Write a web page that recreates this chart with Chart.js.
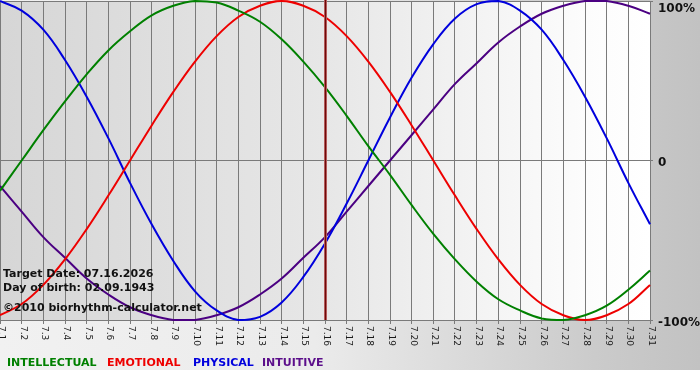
<!DOCTYPE html>
<html>
<head>
<meta charset="utf-8">
<title>Biorhythm</title>
<script src="https://cdn.jsdelivr.net/npm/chart.js@4"></script>
<style>
  html, body { margin: 0; padding: 0; background: #fff; }
  canvas { display: block; }
</style>
</head>
<body>
<canvas id="chart-bio" width="700" height="380"></canvas>
<script>
// days of the month shown on the x axis
const dayLabels = ['7.1', '7.2', '7.3', '7.4', '7.5', '7.6', '7.7', '7.8', '7.9', '7.10',
  '7.11', '7.12', '7.13', '7.14', '7.15', '7.16', '7.17', '7.18', '7.19', '7.20',
  '7.21', '7.22', '7.23', '7.24', '7.25', '7.26', '7.27', '7.28', '7.29', '7.30', '7.31'];

// cycle values in percent
const intellectual = [-19, 0, 19, 37, 54, 69, 81, 91, 97, 100,
  99, 94, 87, 76, 62, 46, 28, 9, -9, -28,
  -46, -62, -76, -87, -94, -99, -100, -97, -91, -81, -69];
const emotional = [-97, -90, -78, -62, -43, -22, 0, 22, 43, 62,
  78, 90, 97, 100, 97, 90, 78, 62, 43, 22,
  0, -22, -43, -62, -78, -90, -97, -100, -97, -90, -78];
const physical = [100, 94, 82, 63, 40, 14, -14, -40, -63, -82,
  -94, -100, -98, -89, -73, -52, -27, 0, 27, 52,
  73, 89, 98, 100, 94, 82, 63, 40, 14, -14, -40];
const intuitive = [-16, -32, -48, -61, -74, -84, -92, -97, -100, -100,
  -97, -92, -84, -74, -61, -48, -32, -16, 0, 16,
  32, 48, 61, 74, 84, 92, 97, 100, 100, 97, 92];

const yTickLabels = ['100%', '0', '-100%'];
const seriesNames = ['INTELLECTUAL', 'EMOTIONAL', 'PHYSICAL', 'INTUITIVE'];
const targetDay = '7.16';
const infoLines = ['Target Date: 07.16.2026', 'Day of birth: 02.09.1943', '\u00A92010 biorhythm-calculator.net'];

(function () {
  'use strict';

  const colors = ['#008000', '#ee0000', '#0000dd', '#4b0082'];
  const legendColors = ['#008000', '#ee0000', '#0000dd', '#5c0f8b'];
  const gridColor = '#7a7a7a';

  // gradients behind the chart
  const backdrop = {
    id: 'backdrop',
    beforeDraw: function (chart) {
      const ctx = chart.ctx;
      const a = chart.chartArea;
      ctx.save();
      let g = ctx.createLinearGradient(0, 0, chart.width, 0);
      g.addColorStop(0, '#f1f1f1');
      g.addColorStop(0.45, '#ebebeb');
      g.addColorStop(0.85, '#cbcbcb');
      g.addColorStop(1, '#c2c2c2');
      ctx.fillStyle = g;
      ctx.fillRect(0, 0, chart.width, 370);
      ctx.fillStyle = '#ffffff';
      ctx.fillRect(0, 370, chart.width, chart.height - 370);

      g = ctx.createLinearGradient(a.left, 0, a.right, 0);
      g.addColorStop(0, '#d6d6d6');
      g.addColorStop(0.5, '#e7e7e7');
      g.addColorStop(0.9, '#fcfcfc');
      g.addColorStop(1, '#ffffff');
      ctx.fillStyle = g;
      ctx.fillRect(a.left, a.top, a.right - a.left, a.bottom - a.top);
      ctx.restore();
    }
  };

  // target line, texts, rotated day labels, legend
  const overlay = {
    id: 'overlay',
    afterDatasetsDraw: function (chart) {
      const ctx = chart.ctx;
      const a = chart.chartArea;
      const xs = chart.scales.x;
      const ys = chart.scales.y;
      ctx.save();

      const tx = Math.round(xs.getPixelForValue(dayLabels.indexOf(targetDay)));
      ctx.fillStyle = '#b45a5a';
      ctx.fillRect(tx - 1, a.top - 1, 3, a.bottom - a.top + 1);
      ctx.fillStyle = '#6e0a0a';
      ctx.fillRect(tx, a.top - 1, 1, a.bottom - a.top + 1);

      ctx.fillStyle = '#111';
      ctx.font = 'bold 11px "DejaVu Sans"';
      ctx.textBaseline = 'alphabetic';
      ctx.textAlign = 'left';
      const infoY = [277, 291, 311];
      infoLines.forEach(function (t, i) {
        ctx.fillText(t, 3, infoY[i]);
      });

      // y labels on the right
      ctx.font = 'bold 12px "DejaVu Sans"';
      const yVals = [100, 0, -100];
      const yShift = [11, 5, 6];
      yTickLabels.forEach(function (t, i) {
        const py = Math.max(ys.getPixelForValue(yVals[i]) + yShift[i], 12);
        ctx.fillText(t, a.right + 8, py);
      });

      // day labels, turned clockwise
      ctx.font = '9px "DejaVu Sans"';
      ctx.fillStyle = '#1a1a1a';
      ctx.textBaseline = 'middle';
      dayLabels.forEach(function (t, i) {
        const px = xs.getPixelForValue(i);
        ctx.save();
        ctx.translate(px + 1.5, a.bottom + 6);
        ctx.rotate(Math.PI / 2);
        ctx.fillText(t, 0, 0);
        ctx.restore();
      });

      // legend
      ctx.font = 'bold 11px "DejaVu Sans"';
      ctx.textBaseline = 'alphabetic';
      const legendX = [7, 107, 193, 262];
      seriesNames.forEach(function (t, i) {
        ctx.fillStyle = legendColors[i];
        ctx.fillText(t, legendX[i], 366);
      });
      ctx.restore();
    }
  };

  function series(label, data, color) {
    return {
      label: label,
      data: data,
      borderColor: color,
      backgroundColor: color,
      borderWidth: 2,
      borderJoinStyle: 'round',
      pointRadius: 0,
      tension: 0.4,
      fill: false,
      clip: 4
    };
  }

  function init() {
    new Chart(document.getElementById('chart-bio'), {
      type: 'line',
      data: {
        labels: dayLabels,
        datasets: [
          series(seriesNames[0], intellectual, colors[0]),
          series(seriesNames[1], emotional, colors[1]),
          series(seriesNames[2], physical, colors[2]),
          series(seriesNames[3], intuitive, colors[3])
        ]
      },
      options: {
        responsive: false,
        animation: false,
        devicePixelRatio: 1,
        layout: { padding: { top: 1, left: 0, right: 0, bottom: 0 } },
        plugins: { legend: { display: false }, tooltip: { enabled: false } },
        scales: {
          x: {
            type: 'category',
            offset: false,
            grid: { color: gridColor, lineWidth: 1, drawTicks: true, tickLength: 4 },
            border: { display: true, color: gridColor },
            ticks: { display: false, autoSkip: false },
            afterFit: function (s) { s.height = 60; }
          },
          y: {
            position: 'right',
            min: -100,
            max: 100,
            grid: { color: gridColor, lineWidth: 1, drawTicks: true, tickLength: 3 },
            border: { display: true, color: gridColor },
            ticks: { stepSize: 100, display: false },
            afterFit: function (s) { s.width = 50; }
          }
        }
      },
      plugins: [backdrop, overlay]
    });
  }

  init();
})();
</script>
</body>
</html>
